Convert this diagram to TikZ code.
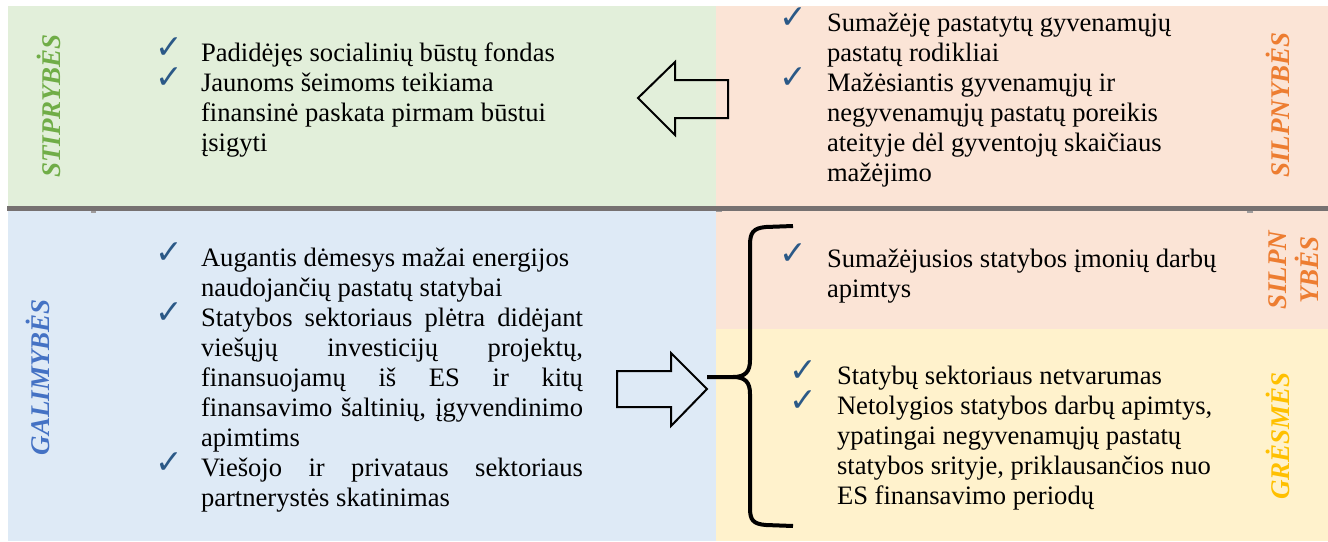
\documentclass[tikz,border=0pt]{standalone}
\usepackage{fontspec}
\setmainfont{Liberation Serif}
\newfontfamily\dejavu{DejaVu Sans}
\definecolor{greenbg}{HTML}{E2EFDA}
\definecolor{pinkbg}{HTML}{FBE4D6}
\definecolor{bluebg}{HTML}{DEEAF6}
\definecolor{yellowbg}{HTML}{FFF2CC}
\definecolor{sepgray}{HTML}{767171}
\definecolor{chkblue}{HTML}{2B5987}
\definecolor{labgreen}{HTML}{70AD47}
\definecolor{laborange}{HTML}{ED7D31}
\definecolor{labblue}{HTML}{4472C4}
\definecolor{labgold}{HTML}{FFC000}
\newcommand\natsp{\spaceskip=0pt\xspaceskip=0pt\relax}
\newcommand\jline[1]{\makebox[382pt][s]{\natsp #1}}
\begin{document}
\begin{tikzpicture}[x=1pt,y=-1pt,
  txt/.style={anchor=base west, inner sep=0pt, outer sep=0pt, align=left,
    font=\fontsize{26.6}{30}\selectfont, execute at begin node=\natsp},
  chk/.style={anchor=base west, inner sep=0pt, text=chkblue,
    font=\dejavu\fontsize{33}{33}\selectfont},
  lab/.style={rotate=90, inner sep=0pt, align=center,
    font=\bfseries\itshape\fontsize{27}{32}\selectfont, execute at begin node=\natsp},
  blockarrow/.style={draw=black, line width=2pt, line join=miter, fill=none},
  bracestyle/.style={draw=black, line width=4pt, line join=round}]
\useasboundingbox (0,0) rectangle (1328,541);
% panels
\fill[white] (0,0) rectangle (1328,541);
\fill[greenbg] (8,6) rectangle (716,206);
\fill[pinkbg] (716,6) rectangle (1328,206);
\fill[bluebg] (8,210) rectangle (716,541);
\fill[pinkbg] (716,210) rectangle (1328,329);
\fill[yellowbg] (716,329) rectangle (1328,541);
\fill[sepgray] (7,205.5) rectangle (1328,210.5);
\fill[sepgray!70] (91,210.5) rectangle (96,212.5);
\fill[sepgray!70] (716,210.5) rectangle (722,212);
\fill[sepgray!70] (1247,210.5) rectangle (1253,212.5);

% labels
\node[lab, text=labgreen] (stip) at (49,106) {STIPRYBĖS};
\node[lab, text=laborange] (silp1) at (1278,105) {SILPNYBĖS};
\node[lab, text=labblue] (gal) at (38,377) {GALIMYBĖS};
\node[lab, text=laborange] (silp2) at (1294,270) {SILPN\\YBĖS};
\node[lab, text=labgold] (gres) at (1278,436) {GRĖSMĖS};

% top-left
\node[chk] (c1) at (155,58) {✓};
\node[chk] (c2) at (155,88) {✓};
\node[txt, text width=370pt] (tl) at (201,61) {Padidėjęs socialinių būstų fondas\\
Jaunoms šeimoms teikiama\\
finansinė paskata pirmam būstui\\
įsigyti};

% top-right
\node[chk] (c3) at (779,28) {✓};
\node[chk] (c4) at (779,88) {✓};
\node[txt, text width=360pt] (tr) at (827,31) {Sumažėję pastatytų gyvenamųjų\\
pastatų rodikliai\\
Mažėsiantis gyvenamųjų ir\\
negyvenamųjų pastatų poreikis\\
ateityje dėl gyventojų skaičiaus\\
mažėjimo};

% bottom-left
\node[chk] (c5) at (155,263) {✓};
\node[chk] (c6) at (155,323) {✓};
\node[chk] (c7) at (155,473) {✓};
\node[txt, text width=382pt] (bl) at (201,266) {Augantis dėmesys mažai energijos\\
naudojančių pastatų statybai\\
\jline{Statybos sektoriaus plėtra didėjant}\\
\jline{viešųjų investicijų projektų,}\\
\jline{finansuojamų iš ES ir kitų}\\
\jline{finansavimo šaltinių, įgyvendinimo}\\
apimtims\\
\jline{Viešojo ir privataus sektoriaus}\\
partnerystės skatinimas};

% bottom-right pink
\node[chk] (c8) at (779,264) {✓};
\node[txt, text width=400pt] (br1) at (827,267) {Sumažėjusios statybos įmonių darbų\\
apimtys};

% yellow
\node[chk] (c9) at (789,381) {✓};
\node[chk] (c10) at (789,411) {✓};
\node[txt, text width=400pt] (br2) at (837,384) {Statybų sektoriaus netvarumas\\
Netolygios statybos darbų apimtys,\\
ypatingai negyvenamųjų pastatų\\
statybos srityje, priklausančios nuo\\
ES finansavimo periodų};

% block arrows
\draw[blockarrow] (638,98) -- (675,62) -- (675,80) -- (728,80) -- (728,118)
  -- (675,118) -- (675,135) -- cycle;
\draw[blockarrow] (707,389) -- (671,353) -- (671,371) -- (617,371) -- (617,407)
  -- (671,407) -- (671,426) -- cycle;

% brace
\draw[bracestyle] (793,226) -- (766,227) .. controls (753,228) and (750,233) .. (750,245)
  -- (750,360) .. controls (750,371) and (746,377) .. (733,377) -- (707,377);
\draw[bracestyle] (733,377) .. controls (746,377) and (750,383) .. (750,394)
  -- (750,508) .. controls (750,520) and (753,524) .. (766,525) -- (793,526);
\end{tikzpicture}
\end{document}
